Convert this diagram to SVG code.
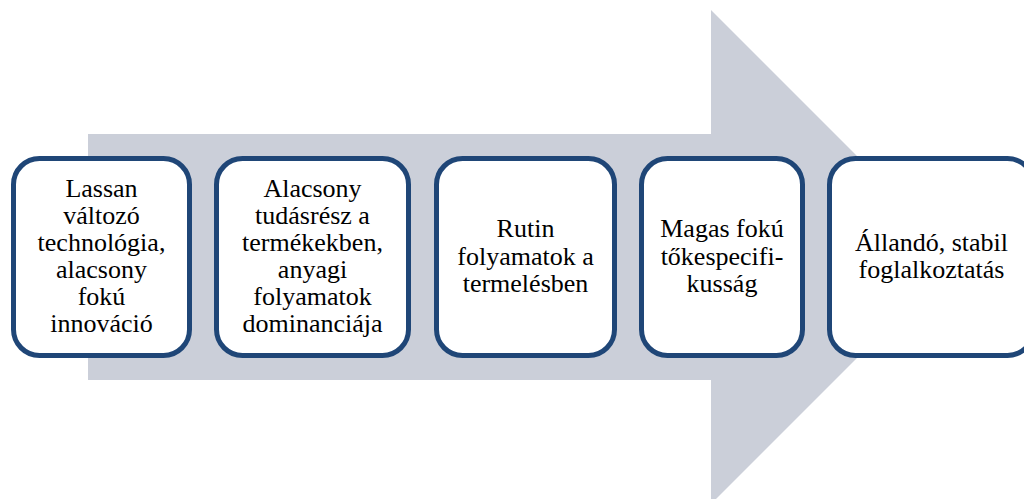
<svg xmlns="http://www.w3.org/2000/svg" width="1024" height="499" viewBox="0 0 1024 499">
  <style>
    .box { fill: #ffffff; stroke: #1f4677; stroke-width: 5; }
    text { font-family: 'Liberation Serif', 'Times New Roman', 'DejaVu Serif', serif; font-size: 26px; fill: #000000; text-anchor: middle; }
  </style>
  <rect x="0" y="0" width="1024" height="499" fill="#ffffff"/>

  <!-- background block arrow -->
  <g id="connectors">
    <polygon points="88,134 711,134 711,10 958,257 711,504 711,380 88,380" fill="#cbcfd9"/>
  </g>

  <g id="node1" font-family="'Liberation Serif', 'DejaVu Serif', serif">
    <rect class="box" x="13.5" y="158.5" width="176" height="197" rx="26" ry="26"/>
    <text x="101.5" y="197">Lassan</text>
    <text x="101.5" y="224">változó</text>
    <text x="101.5" y="251">technológia,</text>
    <text x="101.5" y="278">alacsony</text>
    <text x="101.5" y="305">fokú</text>
    <text x="101.5" y="332">innováció</text>
  </g>

  <g id="node2" font-family="'Liberation Serif', 'DejaVu Serif', serif">
    <rect class="box" x="216.5" y="158.5" width="192" height="197" rx="26" ry="26"/>
    <text x="312.5" y="197">Alacsony</text>
    <text x="312.5" y="224">tudásrész a</text>
    <text x="312.5" y="251">termékekben,</text>
    <text x="312.5" y="278">anyagi</text>
    <text x="312.5" y="305">folyamatok</text>
    <text x="312.5" y="332">dominanciája</text>
  </g>

  <g id="node3" font-family="'Liberation Serif', 'DejaVu Serif', serif">
    <rect class="box" x="436.5" y="158.5" width="178" height="197" rx="26" ry="26"/>
    <text x="525.5" y="237">Rutin</text>
    <text x="525.5" y="264.5">folyamatok a</text>
    <text x="525.5" y="291.5">termelésben</text>
  </g>

  <g id="node4" font-family="'Liberation Serif', 'DejaVu Serif', serif">
    <rect class="box" x="641.5" y="158.5" width="161" height="197" rx="26" ry="26"/>
    <text x="722" y="237">Magas fokú</text>
    <text x="722" y="264.5">tőkespecifi-</text>
    <text x="722" y="291.5">kusság</text>
  </g>

  <g id="node5" font-family="'Liberation Serif', 'DejaVu Serif', serif">
    <rect class="box" x="829.5" y="158.5" width="204" height="197" rx="26" ry="26"/>
    <text x="931.5" y="251">Állandó, stabil</text>
    <text x="931.5" y="278">foglalkoztatás</text>
  </g>
</svg>
